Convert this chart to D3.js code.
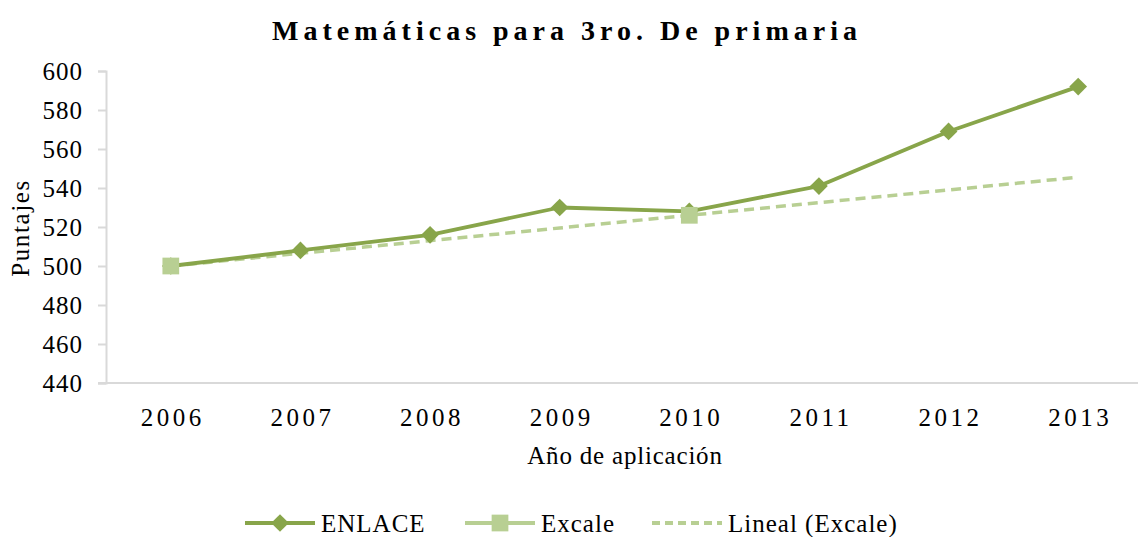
<!DOCTYPE html>
<html>
<head>
<meta charset="utf-8">
<script src="https://d3js.org/d3.v7.min.js"></script>
<style>
  body { margin: 0; background: #fff; }
  text { font-family: "Liberation Serif", "Times New Roman", serif; fill: #000; }
</style>
</head>
<body>
<div id="chart"></div>
<script>
const years = ["2006", "2007", "2008", "2009", "2010", "2011", "2012", "2013"];
const enlace = [500, 508, 516, 530, 528, 541, 569, 592];
const excale = [500, null, null, null, 526, null, null, null];
const yTicks = [440, 460, 480, 500, 520, 540, 560, 580, 600];
const seriesNames = ["ENLACE", "Excale", "Lineal (Excale)"];

const width = 1138, height = 537;
const plotLeft = 106, plotRight = 1143, plotTop = 71, plotBottom = 383;

const cEnlace = "#88a54a";
const cExcale = "#b8cf93";

const svg = d3.select("#chart").append("svg")
  .attr("width", width).attr("height", height);

const x = d3.scaleBand().domain(years).range([plotLeft, plotRight]);
const y = d3.scaleLinear().domain([440, 600]).range([plotBottom, plotTop]);
const cx = d => x(d) + x.bandwidth() / 2;

// title
svg.append("text")
  .attr("x", 567).attr("y", 40)
  .attr("text-anchor", "middle")
  .style("font-size", "28px").style("font-weight", "bold")
  .style("letter-spacing", "5px")
  .text("Matemáticas para 3ro. De primaria");

// y axis
const yAxis = svg.append("g")
  .attr("transform", `translate(${plotLeft},0)`)
  .call(d3.axisLeft(y).tickValues(yTicks).tickSize(8).tickPadding(15));
yAxis.select(".domain").attr("stroke", "#d9d9d9").attr("stroke-width", 2);
yAxis.selectAll(".tick line").attr("stroke", "#d9d9d9").attr("stroke-width", 2);
yAxis.selectAll(".tick text").style("font-size", "25px").style("letter-spacing", "1px")
  .attr("fill", "#000");

// x axis baseline
svg.append("line")
  .attr("x1", plotLeft - 8).attr("x2", width)
  .attr("y1", y(440)).attr("y2", y(440))
  .attr("stroke", "#d9d9d9").attr("stroke-width", 2);

svg.append("g").selectAll("text")
  .data(years).join("text")
  .attr("x", d => cx(d) + 2)
  .attr("y", 426)
  .attr("text-anchor", "middle")
  .style("font-size", "25px").style("letter-spacing", "3.5px")
  .text(d => d);

// axis titles
svg.append("text")
  .attr("x", 625).attr("y", 464)
  .attr("text-anchor", "middle")
  .style("font-size", "25px").style("letter-spacing", "0.8px")
  .text("Año de aplicación");

svg.append("text")
  .attr("transform", "translate(29,228) rotate(-90)")
  .attr("text-anchor", "middle")
  .style("font-size", "25px").style("letter-spacing", "1.6px")
  .text("Puntajes");

// linear trend of Excale (least squares on the known points)
const pts = excale.map((v, i) => [i, v]).filter(p => p[1] != null);
const mx = d3.mean(pts, p => p[0]), my = d3.mean(pts, p => p[1]);
const slope = d3.sum(pts, p => (p[0] - mx) * (p[1] - my)) / d3.sum(pts, p => (p[0] - mx) ** 2);
const trend = years.map((d, i) => my + slope * (i - mx));

const line = d3.line()
  .defined(d => d != null)
  .x((d, i) => cx(years[i]))
  .y(d => y(d));

svg.append("path").datum(trend)
  .attr("fill", "none").attr("stroke", cExcale)
  .attr("stroke-width", 3.5).attr("stroke-dasharray", "10 6")
  .attr("d", line);

svg.append("path").datum(enlace)
  .attr("fill", "none").attr("stroke", cEnlace)
  .attr("stroke-width", 3.8).attr("stroke-linejoin", "round")
  .attr("d", line);

svg.append("path").datum(excale)
  .attr("fill", "none").attr("stroke", cExcale)
  .attr("stroke-width", 3.5)
  .attr("d", line);

const diamond = d3.symbol().type(d3.symbolDiamond2).size(200);
const square = d3.symbol().type(d3.symbolSquare).size(280);

svg.append("g").selectAll("path")
  .data(enlace).join("path")
  .attr("transform", (d, i) => `translate(${cx(years[i])},${y(d)})`)
  .attr("d", diamond).attr("fill", cEnlace);

svg.append("g").selectAll("path")
  .data(excale.map((v, i) => [i, v]).filter(p => p[1] != null)).join("path")
  .attr("transform", d => `translate(${cx(years[d[0]])},${y(d[1])})`)
  .attr("d", square).attr("fill", cExcale);

// legend
const legendX = [245, 465, 652];
const lg = svg.append("g");
seriesNames.forEach((name, i) => {
  const g = lg.append("g").attr("transform", `translate(${legendX[i]},523)`);
  const col = i === 0 ? cEnlace : cExcale;
  g.append("line").attr("x1", 0).attr("x2", 70).attr("y1", 0).attr("y2", 0)
    .attr("stroke", col).attr("stroke-width", 3.8)
    .attr("stroke-dasharray", i === 2 ? "8 5" : null);
  if (i === 0) g.append("path").attr("transform", "translate(35,0)").attr("d", diamond).attr("fill", col);
  if (i === 1) g.append("path").attr("transform", "translate(35,0)").attr("d", square).attr("fill", col);
  g.append("text").attr("x", 76).attr("y", 9)
    .style("font-size", "25px").style("letter-spacing", "1px").text(name);
});
</script>
</body>
</html>
